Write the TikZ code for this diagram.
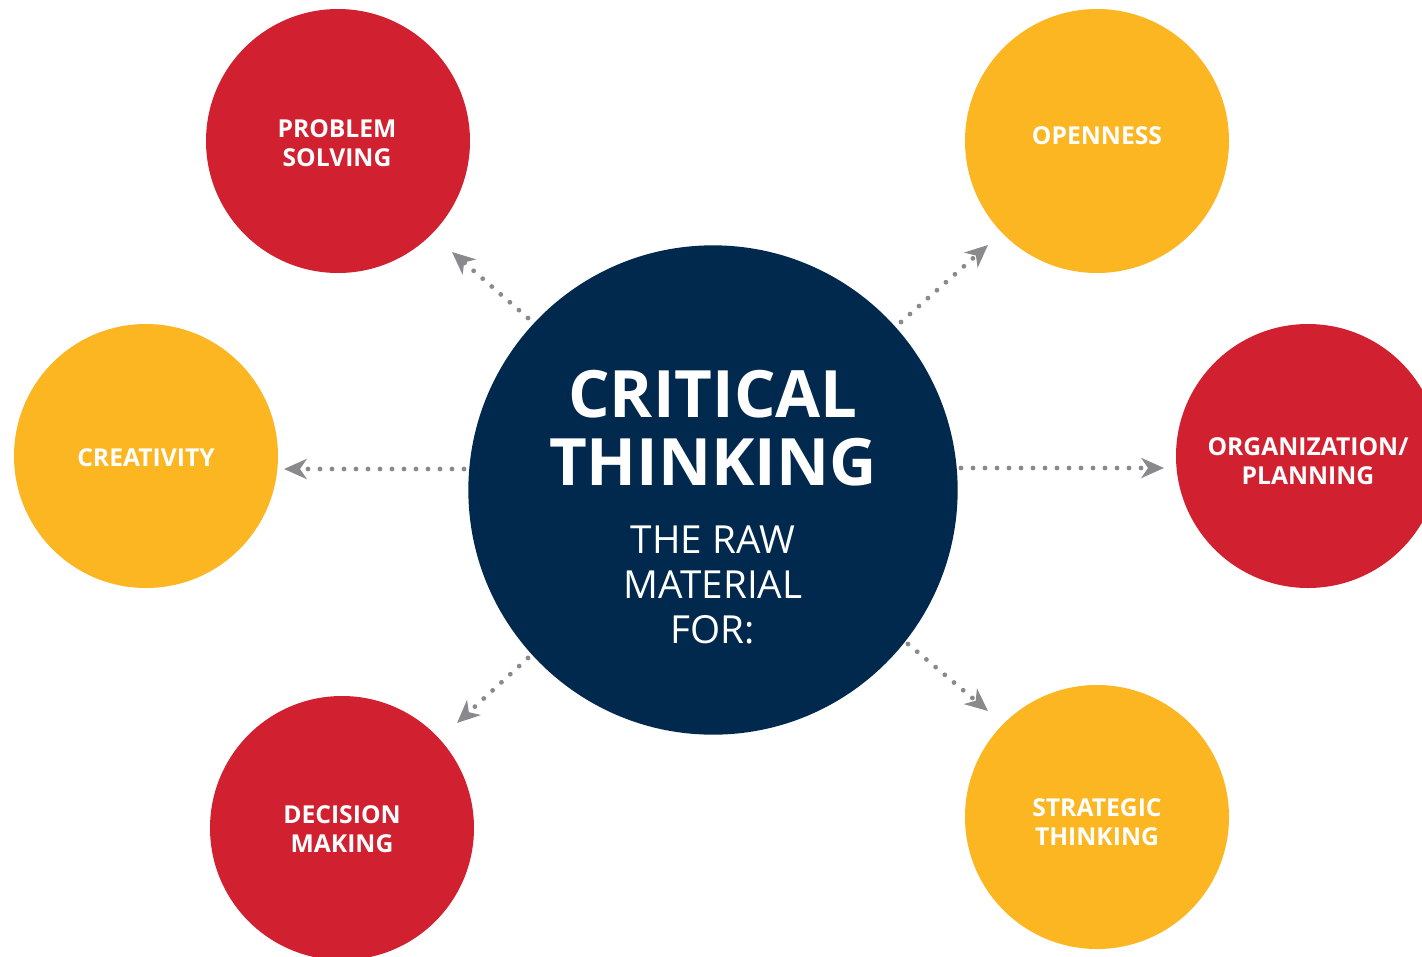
\documentclass[tikz,border=0pt]{standalone}
\usepackage{fontspec}
\setmainfont{Open Sans}
\usetikzlibrary{arrows.meta}
\definecolor{cred}{RGB}{209,32,48}
\definecolor{cyel}{RGB}{251,182,33}
\definecolor{cnavy}{RGB}{0,41,77}
\definecolor{cgray}{RGB}{138,138,142}
\tikzset{
  bub/.style={circle, minimum size=198pt, inner sep=0pt},
  redbub/.style={bub, fill=cred},
  yelbub/.style={bub, fill=cyel},
  lab/.style={align=center, text=white, inner sep=0pt, font=\bfseries\fontsize{18.5}{22}\selectfont},
  link/.style={draw=cgray, line width=3.6pt, line cap=round, dash pattern=on 0pt off 9pt, -{Stealth[length=17pt,width=15pt,inset=5pt]}},
}
\begin{document}
\begin{tikzpicture}[x=0.75pt,y=-0.75pt]
\useasboundingbox (0,0) rectangle (1422,957);
\clip (0,0) rectangle (1422,957);
\node[circle, fill=cnavy, minimum size=367pt, inner sep=0pt] (c) at (713,490) {};
\node[text=white, font=\bfseries\fontsize{49}{51}\selectfont, align=center] (t1) at (713,428) {CRITICAL\\THINKING};
\node[text=white, font=\fontsize{29}{34}\selectfont, align=center] (t2) at (713,585) {THE RAW\\MATERIAL\\FOR:};
\node[redbub] (ps) at (338,141) {};
\node[yelbub] (op) at (1097,141) {};
\node[yelbub] (cr) at (146,456) {};
\node[redbub] (or) at (1308,456) {};
\node[redbub] (dm) at (342,828) {};
\node[yelbub] (st) at (1097,817) {};
\node[lab] (psl) at (337,143) {PROBLEM\\SOLVING};
\node[lab] (opl) at (1097,136) {OPENNESS};
\node[lab] (crl) at (146,458) {CREATIVITY};
\node[lab] (orl) at (1308,461) {ORGANIZATION/\\PLANNING};
\node[lab] (dml) at (342,829) {DECISION\\MAKING};
\node[lab] (stl) at (1097,822) {STRATEGIC\\THINKING};
\coordinate (a1s) at (528,318); \coordinate (a1e) at (452,252);
\coordinate (a2s) at (464,469); \coordinate (a2e) at (284,469);
\coordinate (a3s) at (901,322); \coordinate (a3e) at (988,245);
\coordinate (a4s) at (961,468); \coordinate (a4e) at (1164,468);
\coordinate (a5s) at (528,658); \coordinate (a5e) at (457,723);
\coordinate (a6s) at (908,644); \coordinate (a6e) at (988,711);
\draw[link] (a1s) -- (a1e);
\draw[link] (a2s) -- (a2e);
\draw[link] (a3s) -- (a3e);
\draw[link] (a4s) -- (a4e);
\draw[link] (a5s) -- (a5e);
\draw[link] (a6s) -- (a6e);
\end{tikzpicture}
\end{document}
